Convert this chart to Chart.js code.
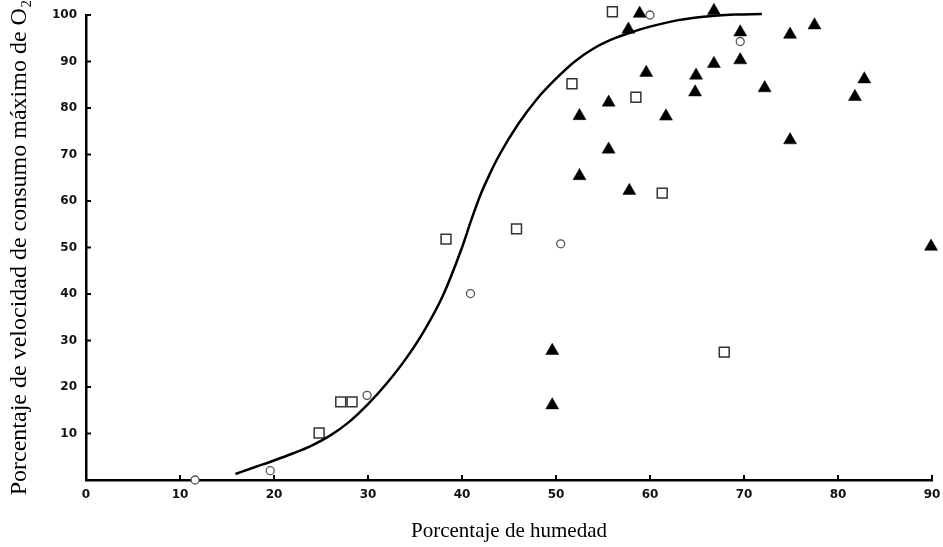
<!DOCTYPE html>
<html>
<head>
<meta charset="utf-8">
<script src="https://cdn.jsdelivr.net/npm/chart.js@4.4.1/dist/chart.umd.min.js"></script>
<style>
html,body{margin:0;padding:0;background:#fff;overflow:hidden;}
#wrap{width:943px;height:547px;position:relative;}
canvas{display:block;}
</style>
</head>
<body>
<div id="wrap"><canvas id="c"></canvas></div>
<script>
// Tick labels
const xTicks = [0, 10, 20, 30, 40, 50, 60, 70, 80, 90];
const yTicks = [10, 20, 30, 40, 50, 60, 70, 80, 90, 100];

// Axis titles
const xTitle = "Porcentaje de humedad";
const yTitle = "Porcentaje de velocidad de consumo máximo de O₂";

// Open squares
const squaresX = [24.8, 27.1, 28.3, 38.3, 45.8, 51.7, 56.0, 58.5, 61.3, 67.9];
const squaresY = [10.1, 16.8, 16.8, 51.8, 54.0, 85.2, 100.7, 82.3, 61.7, 27.5];

// Open circles
const circlesX = [11.6, 19.6, 29.9, 40.9, 50.5, 60.0, 69.6];
const circlesY = [0.0, 2.0, 18.2, 40.1, 50.8, 100.0, 94.3];

// Filled triangles
const trianglesX = [49.6, 49.6, 52.5, 52.5, 55.6, 55.6, 57.7, 57.8, 58.9, 59.6, 61.7, 64.8,
                    64.9, 66.8, 66.8, 69.6, 69.6, 72.2, 74.9, 74.9, 77.5, 81.8, 82.8, 89.9];
const trianglesY = [27.8, 16.1, 78.3, 65.4, 81.2, 71.1, 96.9, 62.2, 100.3, 87.6, 78.2, 83.4,
                    87.0, 89.5, 100.9, 96.3, 90.3, 84.3, 95.8, 73.1, 97.8, 82.4, 86.2, 50.2];

// Fitted curve
const curveX = [15.9, 18, 20, 22, 24, 26, 28, 30, 32, 34, 36, 38, 40, 41, 42, 43, 44,
                46, 48, 50, 52, 54, 56, 58, 60, 63, 66, 69, 71.9];
const curveY = [1.3, 2.8, 4.2, 5.7, 7.4, 9.6, 12.5, 16.3, 20.8, 26.0, 32.2, 39.8, 50.0, 56.0, 61.5, 66.0, 70.0,
                76.6, 82.0, 86.3, 90.0, 92.8, 94.8, 96.3, 97.5, 98.9, 99.7, 100.1, 100.2];

const pts = (xs, ys) => xs.map((x, i) => ({x: x, y: ys[i]}));

// Inward tick marks drawn from the library's scales
const inwardTicks = {
  id: 'inwardTicks',
  afterDatasetsDraw(chart) {
    const ctx = chart.ctx;
    const xs = chart.scales.x, ys = chart.scales.y;
    ctx.save();
    ctx.strokeStyle = '#000';
    ctx.lineWidth = 2;
    xTicks.forEach(v => {
      if (v === 0) return;
      const px = xs.getPixelForValue(v);
      ctx.beginPath();
      ctx.moveTo(px, ys.bottom);
      ctx.lineTo(px, ys.bottom - 5);
      ctx.stroke();
    });
    yTicks.forEach(v => {
      const py = ys.getPixelForValue(v);
      ctx.beginPath();
      ctx.moveTo(xs.left, py);
      ctx.lineTo(xs.left + 5, py);
      ctx.stroke();
    });
    ctx.restore();
  }
};

const tickFont = {family: 'DejaVu Sans', size: 12, weight: 'bold'};
const titleFont = {family: 'Liberation Serif', size: 21, weight: 'normal'};

new Chart(document.getElementById('c'), {
  type: 'scatter',
  data: {
    datasets: [
      {
        type: 'line',
        label: 'Curva',
        data: pts(curveX, curveY),
        borderColor: '#000',
        borderWidth: 2.5,
        pointRadius: 0,
        fill: false,
        cubicInterpolationMode: 'monotone',
        clip: false,
        order: 0
      },
      {
        label: 'Cuadrados',
        data: pts(squaresX, squaresY),
        pointStyle: 'rect',
        pointRadius: 7,
        borderColor: '#333',
        backgroundColor: '#fff',
        borderWidth: 1.5,
        clip: false
      },
      {
        label: 'Círculos',
        data: pts(circlesX, circlesY),
        pointStyle: 'circle',
        pointRadius: 4,
        borderColor: '#555',
        backgroundColor: '#fff',
        borderWidth: 1.3,
        clip: false
      },
      {
        label: 'Triángulos',
        data: pts(trianglesX, trianglesY),
        pointStyle: 'triangle',
        pointRadius: 7.5,
        borderColor: '#000',
        backgroundColor: '#000',
        borderWidth: 0.5,
        clip: false
      }
    ]
  },
  options: {
    responsive: true,
    maintainAspectRatio: false,
    animation: false,
    layout: {padding: {top: 15, right: 11, left: 0, bottom: 0}},
    plugins: {legend: {display: false}, tooltip: {enabled: false}},
    scales: {
      x: {
        type: 'linear',
        min: 0, max: 90,
        afterBuildTicks: s => { s.ticks = xTicks.map(v => ({value: v})); },
        afterFit: s => { s.height = 67; s.paddingLeft = 0; s.paddingRight = 0; },
        grid: {display: false, drawTicks: false},
        border: {display: true, color: '#000', width: 2.5},
        ticks: {color: '#111', font: tickFont, padding: 8, maxRotation: 0, autoSkip: false},
        title: {display: true, text: xTitle, color: '#000', font: titleFont, padding: {top: 0, bottom: 3}}
      },
      y: {
        type: 'linear',
        min: 0, max: 100,
        afterBuildTicks: s => { s.ticks = yTicks.map(v => ({value: v})); },
        afterFit: s => { s.width = 86; s.paddingTop = 0; s.paddingBottom = 0; },
        grid: {display: false, drawTicks: false},
        border: {display: true, color: '#000', width: 2.5},
        ticks: {color: '#111', font: tickFont, padding: 9, autoSkip: false},
        title: {display: true, text: yTitle, color: '#000', font: {family: 'Liberation Serif', size: 24}, padding: {top: 5, bottom: 0}}
      }
    }
  },
  plugins: [inwardTicks]
});
</script>
</body>
</html>
